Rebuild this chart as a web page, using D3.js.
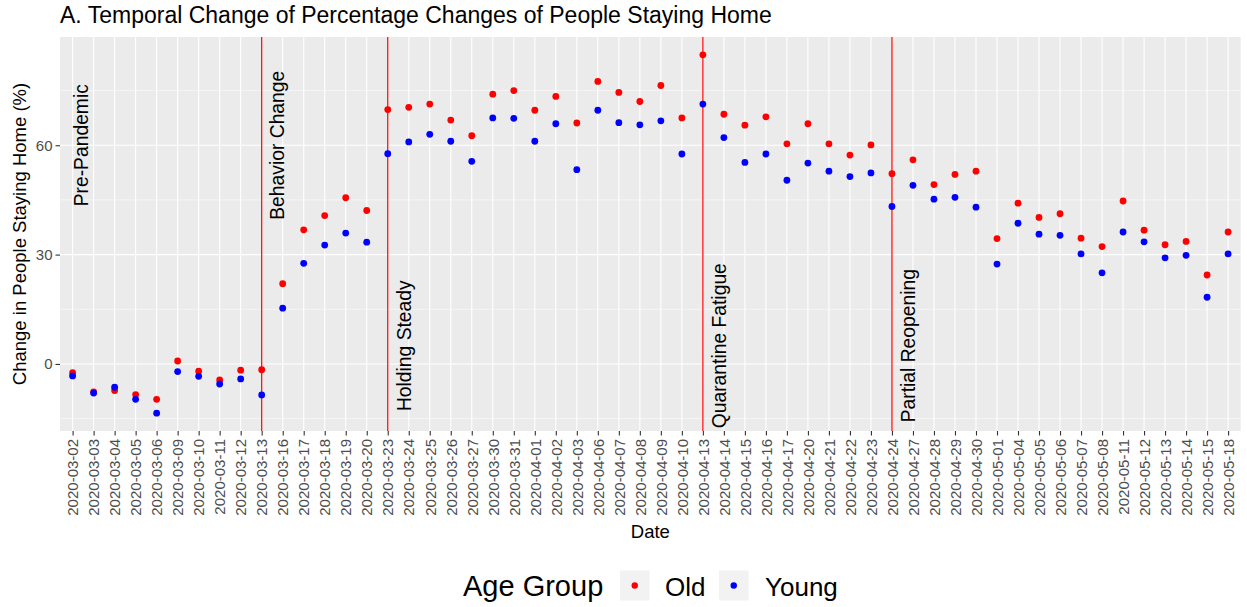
<!DOCTYPE html>
<html>
<head>
<meta charset="utf-8">
<script src="https://cdn.jsdelivr.net/npm/d3@7"></script>
<style>
    body { margin: 0; background: #fff; }
    text { font-family: "Liberation Sans", Arial, sans-serif; }
</style>
</head>
<body>
<div id="chart"></div>
<script>
// weekday dates on the x axis
var dates = ["2020-03-02", "2020-03-03", "2020-03-04", "2020-03-05", "2020-03-06",
    "2020-03-09", "2020-03-10", "2020-03-11", "2020-03-12", "2020-03-13",
    "2020-03-16", "2020-03-17", "2020-03-18", "2020-03-19", "2020-03-20",
    "2020-03-23", "2020-03-24", "2020-03-25", "2020-03-26", "2020-03-27",
    "2020-03-30", "2020-03-31", "2020-04-01", "2020-04-02", "2020-04-03",
    "2020-04-06", "2020-04-07", "2020-04-08", "2020-04-09", "2020-04-10",
    "2020-04-13", "2020-04-14", "2020-04-15", "2020-04-16", "2020-04-17",
    "2020-04-20", "2020-04-21", "2020-04-22", "2020-04-23", "2020-04-24",
    "2020-04-27", "2020-04-28", "2020-04-29", "2020-04-30", "2020-05-01",
    "2020-05-04", "2020-05-05", "2020-05-06", "2020-05-07", "2020-05-08",
    "2020-05-11", "2020-05-12", "2020-05-13", "2020-05-14", "2020-05-15",
    "2020-05-18"];

var oldValues = [-2.4, -7.7, -7.3, -8.4, -9.7,
    0.8, -2.0, -4.4, -1.7, -1.6,
    22.0, 36.8, 40.7, 45.6, 42.1,
    69.8, 70.4, 71.3, 66.9, 62.6,
    74.0, 75.0, 69.6, 73.4, 66.1,
    77.5, 74.5, 72.0, 76.4, 67.5,
    84.8, 68.5, 65.5, 67.8, 60.4,
    65.9, 60.4, 57.3, 60.1, 52.2,
    56.0, 49.2, 52.0, 52.9, 34.4,
    44.1, 40.2, 41.2, 34.5, 32.2,
    44.7, 36.7, 32.7, 33.6, 24.4,
    36.2];

var youngValues = [-3.3, -8.0, -6.4, -9.7, -13.5,
    -2.1, -3.4, -5.5, -4.1, -8.5,
    15.3, 27.6, 32.6, 35.9, 33.4,
    57.7, 60.9, 63.0, 61.1, 55.6,
    67.5, 67.4, 61.1, 65.9, 53.3,
    69.6, 66.2, 65.6, 66.7, 57.6,
    71.3, 62.1, 55.3, 57.6, 50.4,
    55.1, 52.9, 51.4, 52.4, 43.2,
    49.0, 45.2, 45.7, 43.0, 27.4,
    38.6, 35.6, 35.3, 30.2, 25.0,
    36.2, 33.5, 29.1, 29.8, 18.3,
    30.2];

var groups = ["Old", "Young"];
var groupColors = ["#FF0000", "#0000FF"];
var yTicks = [0, 30, 60];
var yMinorTicks = [-15, 15, 45, 75];
var yDomain = [-18.4, 89.7];

// phase markers
var phaseDates = ["2020-03-13", "2020-03-23", "2020-04-13", "2020-04-24"];
var phaseNames = ["Pre-Pandemic", "Behavior Change", "Holding Steady", "Quarantine Fatigue", "Partial Reopening"];
var phaseLabelDates = ["2020-03-02", "2020-03-13", "2020-03-23", "2020-04-13", "2020-04-24"];
var phaseLabelY = [60, 60, 5, 5, 5];

var svgWidth = 1247,
    svgHeight = 607,
    margin = {
        top: 37,
        right: 6.3,
        bottom: 176,
        left: 60
    },
    width = svgWidth - margin.left - margin.right,
    height = svgHeight - margin.top - margin.bottom;

var x = d3.scalePoint()
    .domain(dates)
    .range([0, width])
    .padding(0.6);
var y = d3.scaleLinear()
    .domain(yDomain)
    .range([height, 0]);

var svg = d3.select("#chart").append("svg")
    .attr("width", svgWidth)
    .attr("height", svgHeight);

var chart = svg.append("g")
    .attr("transform", "translate(" + margin.left + "," + margin.top + ")");

// panel
chart.append("rect")
    .attr("width", width)
    .attr("height", height)
    .style("fill", "#EBEBEB");

chart.selectAll(".minorY")
    .data(yMinorTicks)
    .enter().append("line")
    .attr("x1", 0)
    .attr("x2", width)
    .attr("y1", function(d) { return y(d); })
    .attr("y2", function(d) { return y(d); })
    .style("stroke", "#fff")
    .style("stroke-width", 0.55);

chart.selectAll(".majorY")
    .data(yTicks)
    .enter().append("line")
    .attr("x1", 0)
    .attr("x2", width)
    .attr("y1", function(d) { return y(d); })
    .attr("y2", function(d) { return y(d); })
    .style("stroke", "#fff")
    .style("stroke-width", 1.1);

chart.selectAll(".majorX")
    .data(dates)
    .enter().append("line")
    .attr("x1", function(d) { return x(d); })
    .attr("x2", function(d) { return x(d); })
    .attr("y1", 0)
    .attr("y2", height)
    .style("stroke", "#fff")
    .style("stroke-width", 1.1);

// phase lines
chart.selectAll(".phaseLine")
    .data(phaseDates)
    .enter().append("line")
    .attr("class", "phaseLine")
    .attr("x1", function(d) { return x(d); })
    .attr("x2", function(d) { return x(d); })
    .attr("y1", 0)
    .attr("y2", height)
    .style("stroke", "#FF0000")
    .style("stroke-width", 1.2);

// points, Old first so Young sits on top
var series = groups.map(function(g, i) {
    var vals = i === 0 ? oldValues : youngValues;
    return dates.map(function(d, j) {
        return { date: d, value: vals[j], color: groupColors[i] };
    });
});

series.forEach(function(s) {
    chart.selectAll(null)
        .data(s)
        .enter().append("circle")
        .attr("cx", function(d) { return x(d.date); })
        .attr("cy", function(d) { return y(d.value); })
        .attr("r", 3.4)
        .style("fill", function(d) { return d.color; });
});

// phase labels
chart.selectAll(".phaseLabel")
    .data(phaseNames)
    .enter().append("text")
    .attr("class", "phaseLabel")
    .attr("transform", function(d, i) {
        var off = i === 0 ? 8.5 : 16;
        return "translate(" + (x(phaseLabelDates[i]) + off) + "," + y(phaseLabelY[i]) + ") rotate(-90)";
    })
    .attr("dy", "0.35em")
    .attr("text-anchor", "middle")
    .attr("font-size", 19.3)
    .style("fill", "#000")
    .text(function(d) { return d; });

// axes
var xAxis = d3.axisBottom(x)
    .tickSize(4.5)
    .tickPadding(2);
var yAxis = d3.axisLeft(y)
    .tickValues(yTicks)
    .tickSize(4.5)
    .tickPadding(3);

var gx = chart.append("g")
    .attr("class", "x axis")
    .attr("transform", "translate(0," + height + ")")
    .call(xAxis);
gx.select(".domain").remove();
gx.selectAll(".tick line").style("stroke", "#333").style("stroke-width", 1.1);
gx.selectAll(".tick text")
    .attr("transform", "rotate(-90)")
    .attr("x", -8)
    .attr("y", 0)
    .attr("dy", "0.35em")
    .attr("text-anchor", "end")
    .attr("font-size", 15)
    .style("fill", "#4D4D4D")
    .style("font-family", "Liberation Sans, Arial, sans-serif");

var gy = chart.append("g")
    .attr("class", "y axis")
    .call(yAxis);
gy.select(".domain").remove();
gy.selectAll(".tick line").style("stroke", "#333").style("stroke-width", 1.1);
gy.selectAll(".tick text")
    .attr("font-size", 15)
    .style("fill", "#4D4D4D")
    .style("font-family", "Liberation Sans, Arial, sans-serif");

// titles
svg.append("text")
    .attr("x", margin.left)
    .attr("y", 22.5)
    .attr("font-size", 23)
    .style("fill", "#000")
    .text("A. Temporal Change of Percentage Changes of People Staying Home");

svg.append("text")
    .attr("x", margin.left + width / 2)
    .attr("y", 538)
    .attr("text-anchor", "middle")
    .attr("font-size", 18.5)
    .style("fill", "#000")
    .text("Date");

svg.append("text")
    .attr("transform", "translate(19.5," + (margin.top + height / 2) + ") rotate(-90)")
    .attr("dy", "0.35em")
    .attr("text-anchor", "middle")
    .attr("font-size", 18.5)
    .style("fill", "#000")
    .text("Change in People Staying Home (%)");

// legend
var legend = svg.append("g")
    .attr("transform", "translate(463,596)");
legend.append("text")
    .attr("x", 0)
    .attr("y", 0)
    .attr("font-size", 29)
    .style("fill", "#000")
    .text("Age Group");

var keyX = [157, 256];
var labelX = [202, 302];
groups.forEach(function(g, i) {
    legend.append("rect")
        .attr("x", keyX[i])
        .attr("y", -25.5)
        .attr("width", 29.5)
        .attr("height", 30)
        .style("fill", "#F2F2F2");
    legend.append("circle")
        .attr("cx", keyX[i] + 14.75)
        .attr("cy", -10.5)
        .attr("r", 3.2)
        .style("fill", groupColors[i]);
    legend.append("text")
        .attr("x", labelX[i])
        .attr("y", 0)
        .attr("font-size", 26)
        .style("fill", "#000")
        .text(g);
});
</script>
</body>
</html>
